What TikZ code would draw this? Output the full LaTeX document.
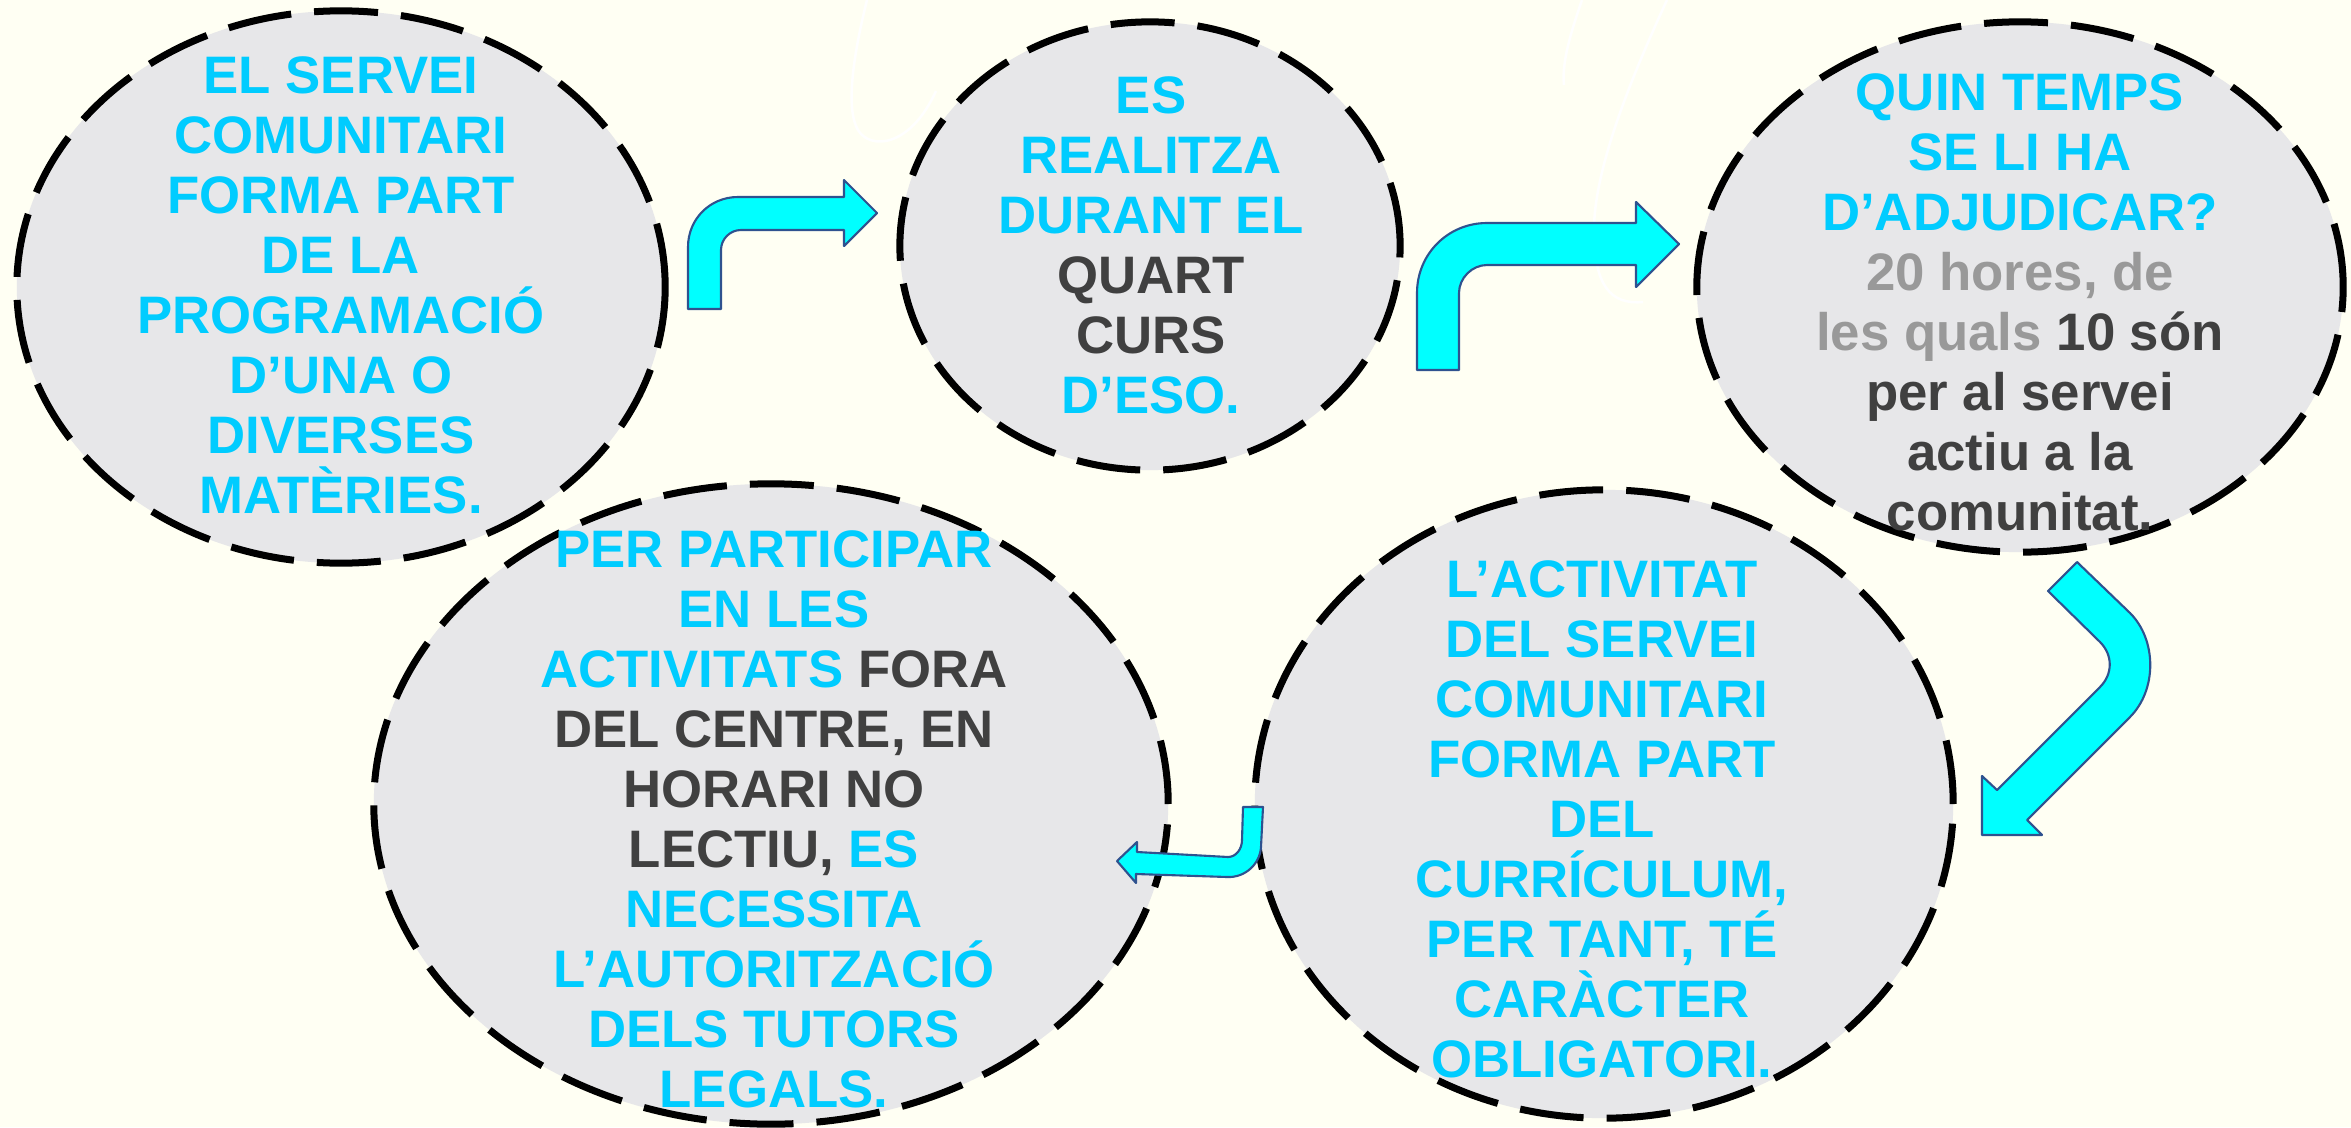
\documentclass[tikz,border=0pt]{standalone}
\usepackage{fontspec}
\setmainfont{Liberation Sans}
\usetikzlibrary{shapes.geometric}

\definecolor{paper}{RGB}{255,255,243}
\definecolor{bubblegray}{RGB}{231,231,233}
\definecolor{skyblue}{RGB}{0,204,255}
\definecolor{textdark}{RGB}{64,64,64}
\definecolor{textgray}{RGB}{153,153,153}
\definecolor{arrowcyan}{RGB}{0,255,255}
\definecolor{arrowedge}{RGB}{47,82,143}

\begin{document}
\begin{tikzpicture}[x=0.01cm,y=-0.01cm,
	bubble/.style={ellipse,draw=black,fill=bubblegray,line width=0.07cm,dash pattern=on 0.64cm off 0.23cm,inner sep=0pt},
	says/.style={align=center,text=skyblue,inner sep=0pt,font={\fontsize{15}{17.07}\selectfont\bfseries}},
	bent/.style={fill=arrowcyan,draw=arrowedge,line width=0.6pt,line join=round},
	ghost/.style={draw=white,line width=0.025cm}]
	%page
	\useasboundingbox (0,0) rectangle (2351,1127);
	\fill[paper] (0,0) rectangle (2351,1127);
	
	%faint strokes behind
	\draw[ghost] (867,0) .. controls (852,60) and (846,110) .. (858,130) .. controls (870,150) and (910,148) .. (936,91);
	\draw[ghost] (1667,0) .. controls (1630,80) and (1594,170) .. (1594,230) .. controls (1594,285) and (1610,305) .. (1643,302);
	\draw[ghost] (1582,0) .. controls (1568,40) and (1562,65) .. (1564,85);
	\draw[ghost] (1708,250) -- (1694,282);
	
	%bubbles
	\node[bubble,minimum width=6.48cm,minimum height=5.52cm] (servei) at (341,287) {};
	\node[bubble,minimum width=5cm,minimum height=4.48cm] (quart) at (1150,246) {};
	\node[bubble,minimum width=6.46cm,minimum height=5.3cm] (temps) at (2020,287) {};
	\node[bubble,minimum width=7.94cm,minimum height=6.4cm] (fora) at (771,804) {};
	\node[bubble,minimum width=6.98cm,minimum height=6.28cm] (curriculum) at (1604,804) {};
	
	%texts
	\node[says] (servei-t) at (341,285) {EL SERVEI\\COMUNITARI\\FORMA PART\\DE LA\\PROGRAMACIÓ\\D’UNA O\\DIVERSES\\MATÈRIES.};
	\node[says] (quart-t) at (1151,245) {ES\\REALITZA\\DURANT EL\\\textcolor{textdark}{QUART}\\\textcolor{textdark}{CURS}\\D’ESO.};
	\node[says] (temps-t) at (2020,302) {QUIN TEMPS\\SE LI HA\\D’ADJUDICAR?\\\textcolor{textgray}{20 hores, de}\\\textcolor{textgray}{les quals} \textcolor{textdark}{10 són}\\\textcolor{textdark}{per al servei}\\\textcolor{textdark}{actiu a la}\\\textcolor{textdark}{comunitat.}};
	\node[says] (fora-t) at (774,819) {PER PARTICIPAR\\EN LES\\ACTIVITATS \textcolor{textdark}{FORA}\\\textcolor{textdark}{DEL CENTRE, EN}\\\textcolor{textdark}{HORARI NO}\\\textcolor{textdark}{LECTIU,} ES\\NECESSITA\\L’AUTORITZACIÓ\\DELS TUTORS\\LEGALS.};
	\node[says] (curriculum-t) at (1602,819) {L’ACTIVITAT\\DEL SERVEI\\COMUNITARI\\FORMA PART\\DEL\\CURRÍCULUM,\\PER TANT, TÉ\\CARÀCTER\\OBLIGATORI.};
	
	%block arrows
	\draw[bent] (688,309) -- (688,247) .. controls (688,219) and (710,197) .. (738,197) -- (844,197) -- (844,180) -- (877,213) -- (844,246) -- (844,230) -- (741,230) .. controls (730,230) and (721,239) .. (721,250) -- (721,309) -- cycle; %servei to quart
	\draw[bent] (1417,370) -- (1417,293) .. controls (1417,254) and (1448,223) .. (1487,223) -- (1636,223) -- (1636,202) -- (1679,244) -- (1636,287) -- (1636,265) -- (1487,265) .. controls (1472,265) and (1459,278) .. (1459,293) -- (1459,370) -- cycle; %quart to temps
	\draw[bent] (2048,591) -- (2077,562) -- (2130,613) .. controls (2157,640) and (2157,690) .. (2130,717) -- (2027,820) -- (2042,835) -- (1982,835) -- (1982,776) -- (1997,790) -- (2100,687) .. controls (2113,674) and (2113,655) .. (2100,642) -- cycle; %temps to curriculum
	\draw[bent] (1243,807) -- (1263,807) -- (1261,847) .. controls (1260,864) and (1245,878) .. (1227,877) -- (1136,874) -- (1136,883) -- (1117,861) -- (1137,842) -- (1137,852) -- (1228,857) .. controls (1236,857) and (1242,849) .. (1242,840) -- cycle; %curriculum to fora
\end{tikzpicture}
\end{document}
